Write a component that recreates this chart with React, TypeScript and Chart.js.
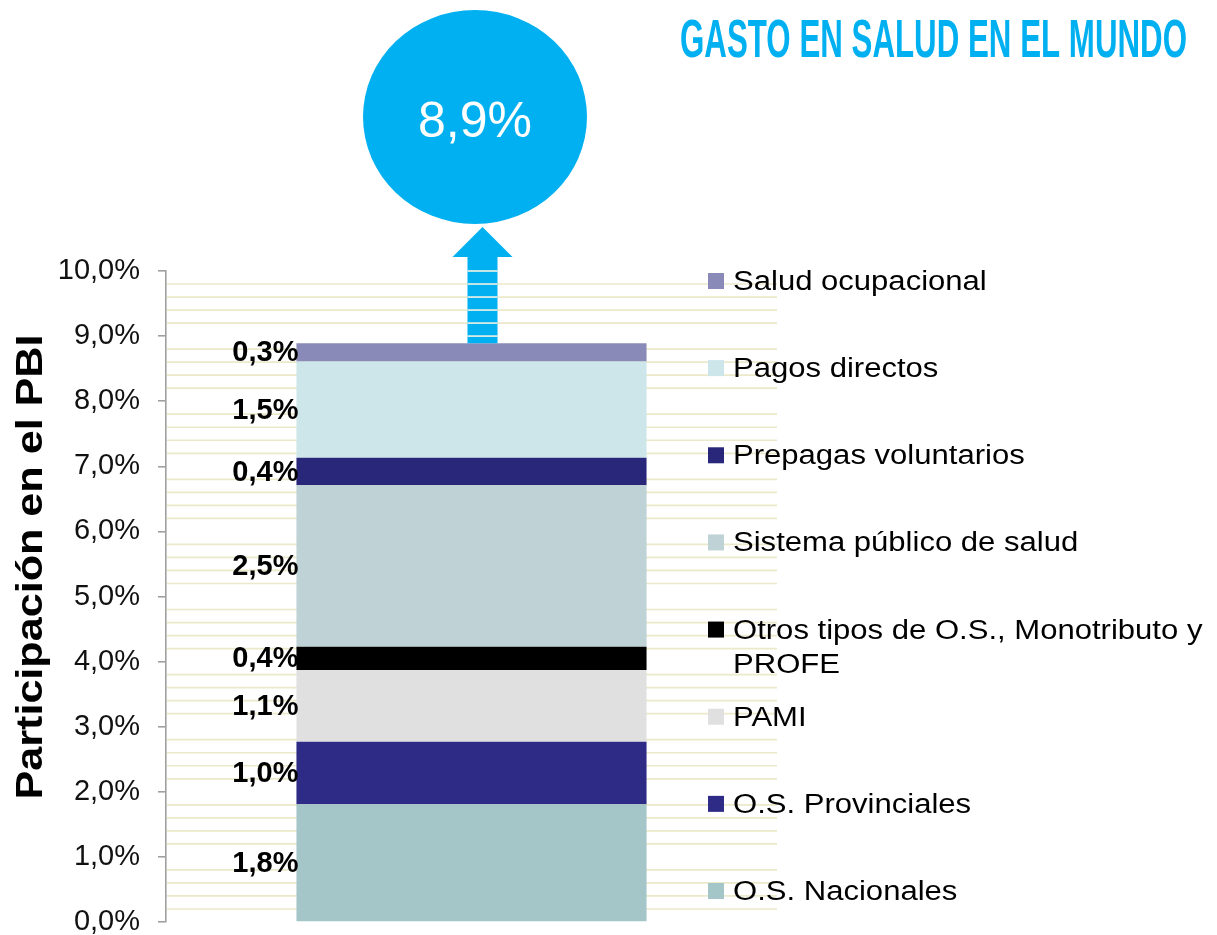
import React, { useEffect, useRef } from 'react';
import { Chart, registerables } from 'chart.js';

Chart.register(...registerables);

// ---------- data ----------
const categories = ['Gasto en salud'];
const seriesNames = [
  'O.S. Nacionales',
  'O.S. Provinciales',
  'PAMI',
  'Otros tipos de O.S., Monotributo y PROFE',
  'Sistema público de salud',
  'Prepagas voluntarios',
  'Pagos directos',
  'Salud ocupacional',
];
const seriesValues = [1.81, 0.96, 1.1, 0.36, 2.48, 0.42, 1.48, 0.28];
const seriesColors = ['#A5C6C9', '#2E2B87', '#E0E0E0', '#000000', '#BFD2D6', '#29277A', '#CDE6EA', '#8A8AB8'];
const yMin = 0;
const yMax = 10;
const yStep = 1;
const minorStep = 0.2;
const chartTitle = 'GASTO EN SALUD EN EL MUNDO';
const yAxisTitle = 'Participación en el PBI';
const accent = '#00B0F0';

const fmt = (v: number) => (Math.round(v * 10) / 10).toFixed(1).replace('.', ',') + '%';
const total = seriesValues.reduce((a, b) => a + b, 0);

const minorGridPlugin = {
  id: 'minorGrid',
  beforeDatasetsDraw(chart: any) {
    const { ctx, chartArea, scales } = chart;
    const y = scales.y;
    ctx.save();
    ctx.strokeStyle = '#ECE9CB';
    ctx.lineWidth = 1.7;
    const n = Math.round((yMax - yMin) / minorStep);
    for (let k = 1; k < n; k++) {
      if (k % Math.round(yStep / minorStep) === 0) continue;
      const py = y.getPixelForValue(yMin + k * minorStep);
      ctx.beginPath();
      ctx.moveTo(chartArea.left + 1, py);
      ctx.lineTo(chartArea.right, py);
      ctx.stroke();
    }
    ctx.restore();
  },
};

const segmentLabelPlugin = {
  id: 'segmentLabels',
  afterDatasetsDraw(chart: any) {
    const { ctx } = chart;
    ctx.save();
    ctx.font = 'bold 29px "Liberation Sans", Arial, sans-serif';
    ctx.fillStyle = '#000';
    ctx.textAlign = 'right';
    ctx.textBaseline = 'middle';
    seriesValues.forEach((v, i) => {
      const el: any = chart.getDatasetMeta(i).data[0];
      if (!el) return;
      const mid = (el.y + el.base) / 2;
      const left = el.x - el.width / 2;
      ctx.fillText(fmt(v), left + 2, mid + 1);
    });
    ctx.restore();
  },
};

const decorPlugin = {
  id: 'decor',
  afterDraw(chart: any) {
    const { ctx, chartArea, scales } = chart;
    const y = scales.y;
    ctx.save();

    // Title
    ctx.font = 'bold 54px "Liberation Sans", Arial, sans-serif';
    ctx.fillStyle = accent;
    ctx.textAlign = 'left';
    ctx.textBaseline = 'alphabetic';
    const tw = ctx.measureText(chartTitle).width;
    ctx.save();
    ctx.translate(680, 57);
    ctx.scale(507 / tw, 1);
    ctx.fillText(chartTitle, 0, 0);
    ctx.restore();

    // Arrow from the top of the stack
    const lastIdx = seriesValues.length - 1;
    const topEl: any = chart.getDatasetMeta(lastIdx).data[0];
    const cx = topEl.x + 11;
    const topY = topEl.y;
    const headBase = 257;
    const tipY = 227;
    ctx.fillStyle = accent;
    ctx.fillRect(cx - 15, headBase, 30, topY - headBase);
    ctx.beginPath();
    ctx.moveTo(cx, tipY);
    ctx.lineTo(cx + 30, headBase);
    ctx.lineTo(cx - 30, headBase);
    ctx.closePath();
    ctx.fill();
    ctx.strokeStyle = '#F4F3E6';
    ctx.lineWidth = 1.6;
    for (let v = 9; v <= yMax + 1e-9; v += minorStep) {
      const py = y.getPixelForValue(v);
      if (py > headBase + 4 && py < topY - 2) {
        ctx.beginPath();
        ctx.moveTo(cx - 15, py);
        ctx.lineTo(cx + 15, py);
        ctx.stroke();
      }
    }

    // Circle with total
    ctx.fillStyle = accent;
    ctx.beginPath();
    ctx.ellipse(475, 117, 112, 107, 0, 0, Math.PI * 2);
    ctx.fill();
    ctx.fillStyle = '#FFFFFF';
    ctx.font = '50px "Liberation Sans", Arial, sans-serif';
    ctx.textAlign = 'center';
    ctx.textBaseline = 'alphabetic';
    ctx.fillText(fmt(total), 475, 137);

    // Y axis title
    ctx.save();
    ctx.font = 'bold 37px "Liberation Sans", Arial, sans-serif';
    ctx.fillStyle = '#000';
    const aw = ctx.measureText(yAxisTitle).width;
    ctx.translate(42, 567);
    ctx.rotate(-Math.PI / 2);
    ctx.scale(465 / aw, 1);
    ctx.textAlign = 'center';
    ctx.textBaseline = 'alphabetic';
    ctx.fillText(yAxisTitle, 0, 0);
    ctx.restore();

    // Legend (reverse order)
    const n = seriesNames.length;
    const firstY = chartArea.top + 10;
    const step = (chartArea.bottom - 31 - firstY) / (n - 1);
    const sx = 1.15;
    const maxW = (1214 - 733) / sx;
    ctx.font = '27px "Liberation Sans", Arial, sans-serif';
    ctx.textAlign = 'left';
    ctx.textBaseline = 'alphabetic';
    for (let i = 0; i < n; i++) {
      const di = n - 1 - i;
      const cy = firstY + i * step;
      ctx.fillStyle = seriesColors[di];
      ctx.fillRect(708, cy - 8, 16, 16);
      ctx.fillStyle = '#000';
      const words = seriesNames[di].split(' ');
      const lines: string[] = [];
      let cur = '';
      for (const w of words) {
        const test = cur ? cur + ' ' + w : w;
        if (ctx.measureText(test).width > maxW && cur) {
          lines.push(cur);
          cur = w;
        } else cur = test;
      }
      if (cur) lines.push(cur);
      lines.forEach((ln, li) => {
        ctx.save();
        ctx.translate(733, cy + 9 + li * 34);
        ctx.scale(sx, 1);
        ctx.fillText(ln, 0, 0);
        ctx.restore();
      });
    }

    ctx.restore();
  },
};

export default function App() {
  const ref = useRef<HTMLCanvasElement | null>(null);

  useEffect(() => {
    if (!ref.current) return;
    const chart = new Chart(ref.current, {
      type: 'bar',
      data: {
        labels: categories,
        datasets: seriesNames.map((name, i) => ({
          label: name,
          data: [seriesValues[i]],
          backgroundColor: seriesColors[i],
          borderWidth: 0,
          categoryPercentage: 1,
          barPercentage: 0.573,
        })),
      },
      options: {
        responsive: false,
        maintainAspectRatio: false,
        animation: false,
        layout: { padding: { left: 0, top: 271, right: 440, bottom: 13 } },
        plugins: {
          legend: { display: false },
          tooltip: { enabled: false },
          title: { display: false },
        },
        scales: {
          x: { display: false, stacked: true },
          y: {
            stacked: true,
            min: yMin,
            max: yMax,
            afterFit: (scale: any) => {
              scale.width = 166;
              scale.paddingTop = 0;
              scale.paddingBottom = 0;
            },
            ticks: {
              stepSize: yStep,
              padding: 18,
              color: '#111',
              font: { family: '"Liberation Sans", Arial, sans-serif', size: 29, lineHeight: 0.9 },
              callback: (v: any) => fmt(Number(v)),
            },
            grid: {
              drawOnChartArea: false,
              drawTicks: true,
              tickLength: 8,
              color: '#A0A0A0',
              lineWidth: 1.6,
            },
            border: { display: true, color: '#A0A0A0', width: 1.6 },
          },
        },
      },
      plugins: [minorGridPlugin, segmentLabelPlugin, decorPlugin],
    });
    return () => chart.destroy();
  }, []);

  return (
    <div style={{ position: 'absolute', left: 0, top: 0, width: 1217, height: 935, background: '#fff' }}>
      <canvas ref={ref} width={1217} height={935} style={{ display: 'block' }} />
    </div>
  );
}
